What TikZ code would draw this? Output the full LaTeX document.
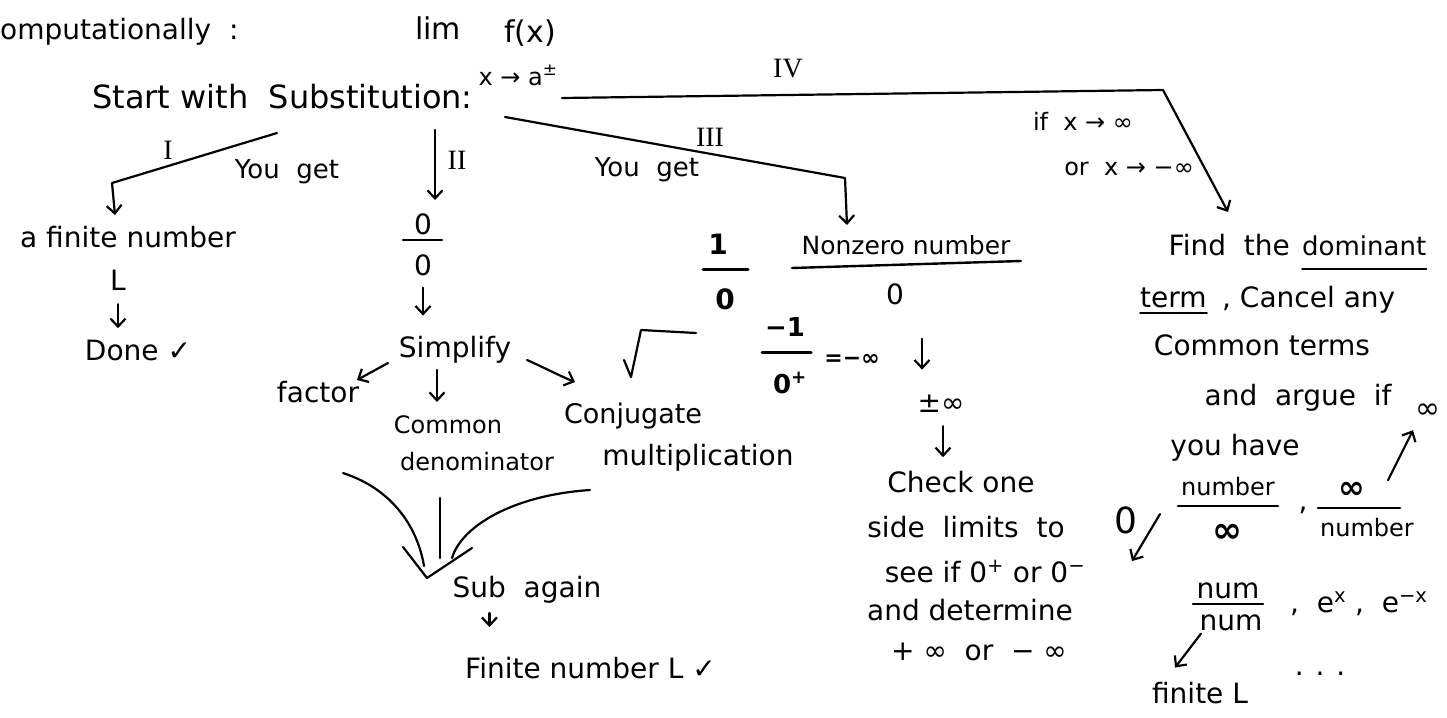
\documentclass[tikz,border=0pt]{standalone}
\usepackage{fontspec}
\setmainfont{DejaVu Sans}
\newfontfamily\numfont{Liberation Serif}
\usetikzlibrary{arrows.meta}
\begin{document}
\begin{tikzpicture}[x=1pt,y=-1pt,
  fs/.style={font=\fontsize{#1}{#1}\selectfont},
  txt/.style={fs=28, inner sep=0pt, anchor=base},
  rn/.style={font=\numfont\fontsize{28}{28}\selectfont, inner sep=0pt},
  ln/.style={line width=2.2pt, line cap=round, line join=round},
  arr/.style={ln, -{Straight Barb[length=8pt,width=15pt]}},
  bar/.style={line width=2.4pt, line cap=round},
  uline/.style={line width=1.8pt, line cap=round},
]
\fill[white] (0,0) rectangle (1447,717);
\useasboundingbox (0,0) rectangle (1447,717);

% ---------- heading ----------
\node[txt, anchor=base west] (comp) at (0,40) {omputationally \ :};
\node[txt, fs=30] (lim) at (438,40) {lim};
\node[txt, fs=30] (fx) at (530,42) {f(x)};
\node[txt, fs=24] (to) at (518,85) {x → a\textsuperscript{±}};
\node[txt, fs=32, anchor=base west] (start) at (92,108) {Start with \ Substitution:};

% ---------- the four branches ----------
\coordinate (rI) at (277,133);   \coordinate (kI) at (112,183);   \coordinate (tI) at (115,215);
\coordinate (rII) at (435,130);  \coordinate (tII) at (435,200);
\coordinate (rIII) at (505,117); \coordinate (kIII) at (845,178); \coordinate (tIII) at (847,225);
\coordinate (rIV) at (562,98);   \coordinate (kIV) at (1163,90);  \coordinate (tIV) at (1228,212);
\draw[arr] (rI) -- (kI) -- (tI);
\draw[arr] (rII) -- (tII);
\draw[arr] (rIII) -- (kIII) -- (tIII);
\draw[arr] (rIV) -- (kIV) -- (tIV);

\node[rn] (nI) at (168,150) {I};
\node[rn] (nII) at (457,160) {II};
\node[rn] (nIII) at (710,137) {III};
\node[rn] (nIV) at (788,69) {IV};
\node[txt, fs=26] (get1) at (287,178) {You \ get};
\node[txt, fs=26] (get3) at (647,176) {You \ get};
\node[txt, fs=24] (ifx) at (1083,130) {if \ x → ∞};
\node[txt, fs=24] (orx) at (1129,175) {or \ x → −∞};

% ---------- I : finite value ----------
\node[txt] (fin) at (128,247) {a finite number};
\node[txt] (L) at (118,290) {L};
\node[txt] (done) at (138,360) {Done ✓};
\draw[arr] ([yshift=-14pt]L.south) -- ++(0,24);

% ---------- II : 0/0 ----------
\node[txt] (n0) at (423,234) {0};
\draw[bar] (403,240) -- (442,240);
\node[txt] (d0) at (423,275) {0};
\draw[arr] ([yshift=-12pt]d0.south) -- ++(0,28);
\node[txt] (simp) at (455,357) {Simplify};
\node[txt] (fact) at (318,402) {factor};
\node[txt, fs=24] (comm) at (448,433) {Common};
\node[txt, fs=24] (deno) at (477,470) {denominator};
\node[txt, fs=27] (conj) at (633,423) {Conjugate};
\node[txt] (mult) at (698,465) {multiplication};
\coordinate (sf) at (388,363); \coordinate (sc) at (437,370); \coordinate (sj) at (527,360);
\draw[arr] (sf) -- (357,380);
\draw[arr] (sc) -- (437,402);
\draw[arr] (sj) .. controls (545,368) and (560,376) .. (575,382);
% square root sketch
\draw[ln] (624,360) -- (631,377) -- (641,330) -- (696,333);

% the three methods merge
\draw[ln] (343,473) .. controls (395,490) and (418,530) .. (424,566);
\draw[ln] (440,498) -- (440,558);
\draw[ln] (590,490) .. controls (515,495) and (462,525) .. (452,558);
\draw[ln] (403,547) -- (427,578) -- (472,548);
\node[txt] (sub) at (527,597) {Sub \ again};
\draw[arr] ([yshift=-10pt]sub.south west) ++(37,0) -- ++(0,14);
\node[txt, anchor=base west] (finl) at (465,678) {Finite number L ✓};

% ---------- III : nonzero / 0 ----------
\node[txt, font=\bfseries\fontsize{28}{28}\selectfont] (one) at (718,254) {1};
\draw[bar, line width=3pt] (703,269) -- (748,269);
\node[txt, font=\bfseries\fontsize{28}{28}\selectfont] (oz) at (725,309) {0};
\node[txt, fs=25] (nz) at (906,254) {Nonzero number};
\draw[bar] (792,268) -- (1021,261);
\node[txt] (nzz) at (895,304) {0};
\node[txt, font=\bfseries\fontsize{26}{26}\selectfont] (m1) at (785,336) {−1};
\draw[bar, line width=3pt] (762,352) -- (811,352);
\node[txt, font=\bfseries\fontsize{26}{26}\selectfont] (zp) at (790,393) {0\textsuperscript{+}};
\node[txt, font=\bfseries\fontsize{22}{22}\selectfont] (eq) at (852,365) {=−∞};
\draw[arr] ([yshift=-34pt]nzz.south) ++(27,0) -- ++(0,31);
\node[txt] (pm) at (941,412) {±∞};
\draw[arr] ([yshift=-14pt]pm.south) ++(2,0) -- ++(0,31);
\node[txt] (chk1) at (961,492) {Check one};
\node[txt] (chk2) at (966,537) {side \ limits \ to};
\node[txt] (chk3) at (985,582) {see if 0\textsuperscript{+} or 0\textsuperscript{−}};
\node[txt] (chk4) at (970,620) {and determine};
\node[txt] (chk5) at (979,660) {+ ∞ \ or \ − ∞};

% ---------- IV : x to infinity ----------
\node[txt, anchor=base east] (find) at (1290,255) {Find \ the};
\node[txt, fs=26, anchor=base west] (dom) at (1302,255) {dominant};
\draw[uline] ([yshift=-14pt]dom.base west) -- ([yshift=-14pt]dom.base east);
\node[txt, anchor=base west] (term) at (1140,307) {term};
\node[txt, anchor=base west] (cancel) at (1222,307) {, Cancel any};
\draw[uline] ([yshift=-6pt]term.base west) -- ([yshift=-6pt]term.base east);
\node[txt] (cterm) at (1262,355) {Common terms};
\node[txt] (argue) at (1298,405) {and \ argue \ if};
\node[txt, fs=30] (inf) at (1428,418) {∞};
\node[txt] (have) at (1235,455) {you have};
\draw[arr] ([yshift=-62pt]inf.south) ++(-40,0) -- ++(25,-50);

\node[txt, fs=24] (fa) at (1228,495) {number};
\draw[bar] (1178,506) -- (1278,506);
\node[txt, font=\bfseries\fontsize{36}{36}\selectfont] (fb) at (1227,542) {∞};
\node[txt] (c1) at (1303,510) {,};
\node[txt, font=\bfseries\fontsize{32}{32}\selectfont] (fc) at (1352,498) {∞};
\draw[bar] (1318,508) -- (1400,508);
\node[txt, fs=24] (fd) at (1367,536) {number};
\node[txt, fs=36] (z0) at (1126,533) {0};
\draw[arr] ([xshift=-21pt,yshift=-28pt]fa.west) -- ++(-28,47);

\node[txt] (na) at (1228,598) {num};
\draw[bar] (1193,604) -- (1263,604);
\node[txt] (nb) at (1231,630) {num};
\node[txt, anchor=base west] (exps) at (1290,612) {, \ e\textsuperscript{x} , \ e\textsuperscript{−x}};
\draw[arr] ([xshift=-30pt,yshift=-3pt]nb.south) -- ++(-26,34);
\node[txt] (finL) at (1200,703) {finite L};
\node[txt] (dots) at (1320,675) {. . .};
\end{tikzpicture}
\end{document}
